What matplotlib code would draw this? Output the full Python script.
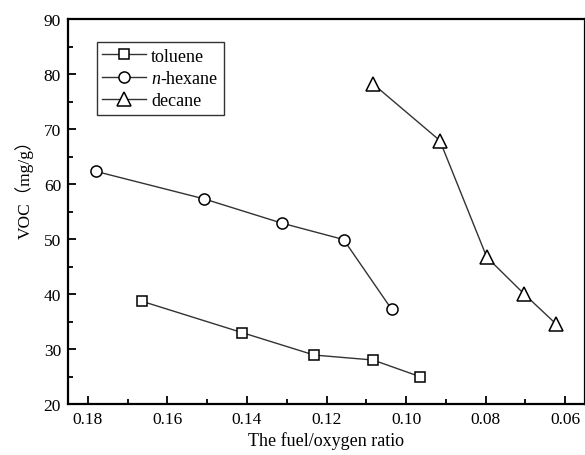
import matplotlib
matplotlib.use("Agg")
import matplotlib.pyplot as plt
from matplotlib.ticker import MultipleLocator

plt.rcParams['font.family'] = ['Liberation Serif', 'Noto Sans CJK SC']
plt.rcParams['mathtext.fontset'] = 'custom'
plt.rcParams['mathtext.it'] = 'Liberation Serif:italic'
plt.rcParams['mathtext.rm'] = 'Liberation Serif'

# data
toluene_x = [0.1665, 0.1413, 0.1231, 0.1083, 0.0966]
toluene_y = [38.7, 33.0, 28.9, 28.0, 25.0]
hexane_x = [0.178, 0.1508, 0.1313, 0.1157, 0.1036]
hexane_y = [62.3, 57.3, 52.9, 49.9, 37.2]
decane_x = [0.1083, 0.0915, 0.0797, 0.0703, 0.0622]
decane_y = [78.2, 67.9, 46.7, 40.0, 34.5]
x_ticks = [0.18, 0.16, 0.14, 0.12, 0.10, 0.08, 0.06]
y_ticks = [20, 30, 40, 50, 60, 70, 80, 90]

fig = plt.figure(figsize=(5.85, 4.56), dpi=100)
ax = fig.add_axes([68 / 585, 1 - 405 / 456, 1 - 68 / 585, (405 - 20) / 456])

style = dict(color='#333333', lw=1.0, mfc='white', mec='black', mew=1.1)
ax.plot(toluene_x, toluene_y, marker='s', ms=7.3, label='toluene', **style)
ax.plot(hexane_x, hexane_y, marker='o', ms=8, label='$n$-hexane', **style)
ax.plot(decane_x, decane_y, marker='^', ms=10.5, label='decane', **style)

ax.set_xlim(0.185, 0.055)
ax.set_ylim(20, 90)
ax.set_xticks(x_ticks)
ax.set_xticklabels(['%.2f' % v for v in x_ticks])
ax.set_yticks(y_ticks)
ax.xaxis.set_minor_locator(MultipleLocator(0.01))
ax.yaxis.set_minor_locator(MultipleLocator(5))
ax.tick_params(which='major', direction='in', length=6, width=1.3, labelsize=12.5, pad=5)
ax.tick_params(which='minor', direction='in', length=3.5, width=1.3)
for s in ax.spines.values():
    s.set_linewidth(1.6)

ax.set_xlabel('The fuel/oxygen ratio', fontsize=13, labelpad=3)
fig.text(0.042, 1 - 185 / 456, 'VOC（mg/g）', rotation=90, fontsize=12.5,
         ha='center', va='center')

leg = ax.legend(loc='upper left', bbox_to_anchor=(0.056, 0.94), fontsize=13,
                frameon=True, fancybox=False, edgecolor='black',
                handlelength=2.4, borderpad=0.3, labelspacing=0.3,
                handletextpad=0.3, borderaxespad=0)
leg.get_frame().set_linewidth(1.0)

fig.savefig('out.png', dpi=100)
